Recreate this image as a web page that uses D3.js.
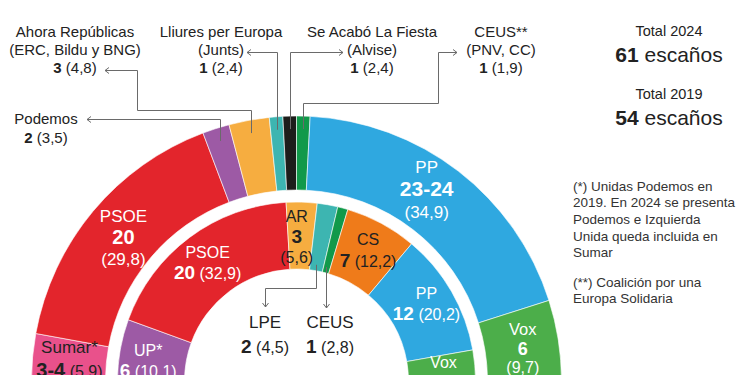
<!DOCTYPE html>
<html>
<head>
<meta charset="utf-8">
<script src="https://cdn.jsdelivr.net/npm/d3@7"></script>
<style>
body { margin: 0; background: #fff; }
svg text { font-family: "Liberation Sans", Arial, Helvetica, sans-serif; }
</style>
</head>
<body>
<svg></svg>
<script>
width = 750;
height = 375;

// 2024 (outer ring)
keys2024 = ['Sumar', 'PSOE', 'Podemos', 'AR', 'Junts', 'Alvise', 'CEUS', 'PP', 'Vox'];
names2024 = ['Sumar*', 'PSOE', 'Podemos', 'Ahora Repúblicas', 'Lliures per Europa', 'Se Acabó La Fiesta', 'CEUS**', 'PP', 'Vox'];
subNames2024 = ['', '', '', '(ERC, Bildu y BNG)', '(Junts)', '(Alvise)', '(PNV, CC)', '', ''];
seats2024 = [3.5, 20, 2, 3, 1, 1, 1, 23.5, 6];
seatLabels2024 = ['3-4', '20', '2', '3', '1', '1', '1', '23-24', '6'];
votes2024 = ['5,9', '29,8', '3,5', '4,8', '2,4', '2,4', '1,9', '34,9', '9,7'];

// 2019 (inner ring)
keys2019 = ['UP', 'PSOE', 'AR', 'LPE', 'CEUS', 'CS', 'PP', 'Vox'];
names2019 = ['UP*', 'PSOE', 'AR', 'LPE', 'CEUS', 'CS', 'PP', 'Vox'];
seats2019 = [6, 20, 3, 2, 1, 7, 12, 3];
votes2019 = ['10,1', '32,9', '5,6', '4,5', '2,8', '12,2', '20,2', '6,2'];

totalYears = ['2024', '2019'];
totalSeats = [61, 54];

notes = [
  ['(*) Unidas Podemos en', '2019. En 2024 se presenta', 'Podemos e Izquierda', 'Unida queda incluida en', 'Sumar'],
  ['(**) Coalición por una', 'Europa Solidaria']
];

svg = d3.select('svg')
  .attr('width', width)
  .attr('height', height);

cx = 296.5;
cy = 381;
dark = '#222';
lineColor = '#6a6a6a';

color = d3.scaleOrdinal()
  .domain(['Sumar', 'PSOE', 'Podemos', 'AR', 'Junts', 'Alvise', 'CEUS', 'PP', 'Vox', 'UP', 'LPE', 'CS'])
  .range(['#e9518b', '#e3252c', '#9d5aa5', '#f6ad40', '#3db5b1', '#1d1d1b', '#11994a', '#2fa8e0', '#4cae4a', '#9d5aa5', '#3db5b1', '#ef7b1a']);

data2024 = keys2024.map((k, i) => ({
  key: k, name: names2024[i], sub: subNames2024[i],
  seats: seats2024[i], seatLabel: seatLabels2024[i], vote: votes2024[i]
}));
data2019 = keys2019.map((k, i) => ({
  key: k, name: names2019[i],
  seats: seats2019[i], seatLabel: String(seats2019[i]), vote: votes2019[i]
}));

pie = d3.pie().sort(null).value(d => d.seats)
  .startAngle(-Math.PI / 2).endAngle(Math.PI / 2);
arcOuter = d3.arc().innerRadius(191).outerRadius(265);
arcInner = d3.arc().innerRadius(112).outerRadius(179);

outer = pie(data2024);
inner = pie(data2019);

g = svg.append('g').attr('transform', `translate(${cx},${cy})`);

g.selectAll('path.outer')
  .data(outer)
  .enter().append('path')
  .attr('class', 'outer')
  .attr('d', arcOuter)
  .attr('fill', d => color(d.data.key))
  .attr('stroke', '#fff')
  .attr('stroke-width', 0.6);

g.selectAll('path.inner')
  .data(inner)
  .enter().append('path')
  .attr('class', 'inner')
  .attr('d', arcInner)
  .attr('fill', d => color(d.data.key))
  .attr('stroke', '#fff')
  .attr('stroke-width', 0.6);

// point on a ring, in svg coords
function pt(a, r) {
  return [cx + r * Math.sin(a), cy - r * Math.cos(a)];
}
function mid(d) { return (d.startAngle + d.endAngle) / 2; }

// text block: lines = [{c: visual centre offset, parts: [[text, size, bold]]}]
function block(sel, x, y, lines, fill) {
  lines.forEach(l => {
    maxSize = d3.max(l.parts, p => p[1]);
    t = sel.append('text')
      .attr('x', x)
      .attr('y', y + l.c + 0.36 * maxSize)
      .attr('text-anchor', 'middle')
      .attr('fill', fill);
    l.parts.forEach(p => t.append('tspan')
      .attr('font-size', p[1])
      .attr('font-weight', p[2] ? 'bold' : 'normal')
      .text(p[0]));
  });
}

function threeLines(d, s, gap1, gap2) {
  return [
    { c: -gap1, parts: [[d.name, s[0]]] },
    { c: 0, parts: [[d.seatLabel, s[1], true]] },
    { c: gap2, parts: [['(' + d.vote + ')', s[2]]] }
  ];
}
function twoLines(d, s, gap) {
  return [
    { c: -gap / 2, parts: [[d.name, s[0]]] },
    { c: gap / 2, parts: [[d.seatLabel, s[1], true], [' (' + d.vote + ')', s[2]]] }
  ];
}

// labels inside outer ring
outerLab = {
  Sumar: { dx: 0, dy: -2, fill: dark, lines: d => twoLines(d, [17, 20, 16], 23) },
  PSOE: { dx: 2, dy: 2, fill: '#fff', lines: d => threeLines(d, [17, 20, 17], 21.5, 22) },
  PP: { dx: -9, dy: -12, fill: '#fff', lines: d => threeLines(d, [17, 21, 17], 21.5, 23) },
  Vox: { dx: 1, dy: 2.5, fill: '#fff', lines: d => threeLines(d, [16.5, 18, 16], 19, 19) }
};
outer.forEach(d => {
  o = outerLab[d.data.key];
  if (!o) return;
  c = arcOuter.centroid(d);
  block(g, c[0] + o.dx, c[1] + o.dy, o.lines(d.data), o.fill);
});

// labels inside inner ring
innerLab = {
  UP: { dx: -5, dy: 4, fill: '#fff', lines: d => twoLines(d, [16, 19, 16], 20) },
  PSOE: { dx: -2, dy: -2.5, fill: '#fff', lines: d => twoLines(d, [16, 19, 16], 20) },
  AR: { dx: -4, dy: 1, fill: dark, lines: d => threeLines(d, [16, 19, 16], 20, 21) },
  CS: { dx: 2.5, dy: -3.5, fill: dark, lines: d => twoLines(d, [16, 19, 16], 21) },
  PP: { dx: 4, dy: -5, fill: '#fff', lines: d => twoLines(d, [16, 19, 16], 20) },
  Vox: { dx: 2, dy: 3.5, fill: '#fff', lines: d => twoLines(d, [16, 19, 16], 20) }
};
inner.forEach(d => {
  o = innerLab[d.data.key];
  if (!o) return;
  c = arcInner.centroid(d);
  block(g, c[0] + o.dx, c[1] + o.dy, o.lines(d.data), o.fill);
});

// leader lines
line = d3.line();
leaders = svg.append('g')
  .attr('fill', 'none')
  .attr('stroke', lineColor)
  .attr('stroke-width', 1);

function arrow(p, dir) {
  [x, y] = p;
  if (dir === 'left') return `M${x + 4},${y - 3}L${x},${y}L${x + 4},${y + 3}`;
  if (dir === 'right') return `M${x - 4},${y - 3}L${x},${y}L${x - 4},${y + 3}`;
  return `M${x - 3},${y - 4}L${x},${y}L${x + 3},${y - 4}`;
}
function leader(points, dir) {
  leaders.append('path').attr('d', line(points));
  leaders.append('path').attr('d', arrow(points[points.length - 1], dir));
}

byKey2024 = {};
outer.forEach(d => { byKey2024[d.data.key] = d; });
byKey2019 = {};
inner.forEach(d => { byKey2019[d.data.key] = d; });

// top callouts (2024)
callouts = [
  { key: 'Podemos', route: s => [s, [s[0], 119.5], [87, 119.5]], dir: 'left', x: 46, y: 124 },
  { key: 'AR', route: s => [s, [s[0], 110.5], [137.5, 110.5], [137.5, 70.5], [105, 70.5]], dir: 'left', x: 75, y: 37 },
  { key: 'Junts', route: s => [s, [s[0], 52.5], [247, 52.5]], dir: 'left', x: 221, y: 37 },
  { key: 'Alvise', route: s => [s, [s[0], 52.5], [343, 52.5]], dir: 'right', x: 372, y: 37 },
  { key: 'CEUS', route: s => [s, [s[0], 103.5], [438.5, 103.5], [438.5, 52.5], [457, 52.5]], dir: 'right', x: 501, y: 37 }
];
callouts.forEach(c => {
  d = byKey2024[c.key];
  s = pt(mid(d), 252);
  s[0] = Math.round(s[0]) + 0.5;
  leader(c.route(s), c.dir);
  rows = d.data.sub ? [d.data.name, d.data.sub] : [d.data.name];
  rows.forEach((r, i) => {
    svg.append('text')
      .attr('x', c.x).attr('y', c.y + i * 18)
      .attr('text-anchor', 'middle')
      .attr('font-size', 15).attr('fill', dark)
      .text(r);
  });
  t = svg.append('text')
    .attr('x', c.x).attr('y', c.y + rows.length * 18 + (rows.length === 1 ? 1 : 0))
    .attr('text-anchor', 'middle')
    .attr('font-size', 15).attr('fill', dark);
  t.append('tspan').attr('font-weight', 'bold').text(d.data.seatLabel);
  t.append('tspan').text(' (' + d.data.vote + ')');
});

// hole callouts (2019)
holeCallouts = [
  { key: 'LPE', route: s => [s, [s[0], 288.5], [265.5, 288.5], [265.5, 307]], tx: 265 },
  { key: 'CEUS', route: s => [s, [s[0], 308]], tx: 330 }
];
holeCallouts.forEach(c => {
  d = byKey2019[c.key];
  s = pt(mid(d), 118);
  s[0] = Math.round(s[0]) - 0.5;
  leader(c.route(s), 'down');
  block(svg, c.tx, 334, [
    { c: -12.5, parts: [[d.data.name, 17]] },
    { c: 12.5, parts: [[d.data.seatLabel, 19, true], [' (' + d.data.vote + ')', 16]] }
  ], dark);
});

// totals
totalYears.forEach((yr, i) => {
  y0 = 36 + i * 63;
  svg.append('text')
    .attr('x', 669).attr('y', y0)
    .attr('text-anchor', 'middle')
    .attr('font-size', 14.5).attr('fill', dark)
    .text('Total ' + yr);
  t = svg.append('text')
    .attr('x', 669).attr('y', y0 + 26)
    .attr('text-anchor', 'middle')
    .attr('font-size', 21).attr('fill', dark);
  t.append('tspan').attr('font-weight', 'bold').text(totalSeats[i]);
  t.append('tspan').text(' escaños');
});

// notes
ny = 190.5;
notes.forEach(block0 => {
  block0.forEach(l => {
    svg.append('text')
      .attr('x', 573).attr('y', ny)
      .attr('font-size', 13.5).attr('fill', '#333')
      .text(l);
    ny += 16.7;
  });
  ny += 12.5;
});
</script>
</body>
</html>
